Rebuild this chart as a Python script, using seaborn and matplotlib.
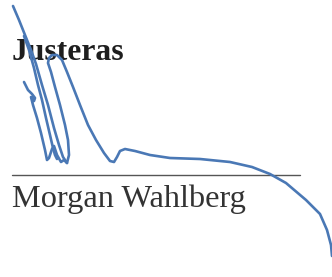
import matplotlib
matplotlib.use('Agg')
import matplotlib.pyplot as plt
import seaborn as sns

# signature strokes, pixel coordinates (y grows downward)
stroke1_x = [13, 19, 25, 31, 36, 42, 48, 54, 59, 63, 67]
stroke1_y = [6, 20, 35, 50, 64, 85, 105, 128, 145, 157, 163]

stroke2_x = [24, 29, 34, 38, 42, 46, 50, 53, 55, 57]
stroke2_y = [36, 50, 68, 85, 100, 118, 135, 148, 155, 159]

stroke3_x = [24, 28, 32, 35, 34, 31, 33, 37, 41, 45, 47, 49, 52, 54, 57, 61, 64]
stroke3_y = [82, 90, 94, 98, 101, 97, 105, 118, 133, 150, 160, 158, 149, 146, 155, 162, 160]

stroke4_x = [64, 67, 69, 68, 65, 60, 55, 51, 48, 49, 52, 57, 62, 67, 73, 80, 88, 96, 104,
             110, 114, 117, 120, 125, 135, 150, 170, 200, 230, 252, 270, 286, 306, 320, 327, 331, 332]
stroke4_y = [160, 163, 155, 140, 125, 105, 87, 72, 63, 58, 55, 55, 60, 72, 87, 105, 125, 140, 153,
             161, 162, 157, 151, 149, 151, 155, 158, 159, 162, 167, 174, 183, 200, 214, 230, 245, 256]

strokes = [(stroke1_x, stroke1_y), (stroke2_x, stroke2_y),
           (stroke3_x, stroke3_y), (stroke4_x, stroke4_y)]

sig_line_x = [12, 300]
sig_line_y = [175, 175]

title_text = 'Justeras'
name_text = 'Morgan Wahlberg'

sns.set_style('white')
fig = plt.figure(figsize=(3.32, 2.77), dpi=100)
ax = fig.add_axes([0, 0, 1, 1])

sns.lineplot(x=sig_line_x, y=sig_line_y, ax=ax, color='#555555', linewidth=1.0,
             sort=False, estimator=None)

ax.text(12, 60, title_text, fontsize=22.8, fontweight='bold', color='#1e1e1e',
        family=['Liberation Serif', 'DejaVu Serif'], va='baseline', ha='left', zorder=2)
ax.text(12, 207, name_text, fontsize=23.3, color='#333333',
        family=['Liberation Serif', 'DejaVu Serif'], va='baseline', ha='left', zorder=2)

for sx, sy in strokes:
    sns.lineplot(x=sx, y=sy, ax=ax, color='#4a78b5', linewidth=1.9, sort=False,
                 estimator=None, zorder=3, solid_joinstyle='round', solid_capstyle='round')

ax.set_xlim(0, 332)
ax.set_ylim(277, 0)
ax.axis('off')

fig.savefig('out.png', dpi=100, facecolor='white')
